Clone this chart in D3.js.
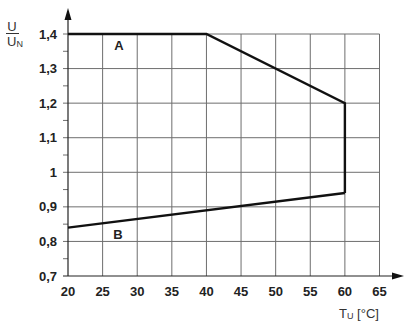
<!DOCTYPE html>
<html><head><meta charset="utf-8">
<script src="https://cdn.jsdelivr.net/npm/d3@7"></script>
<style>body{margin:0;background:#fff}svg{display:block}</style>
</head><body>
<script>
const xTicks = [20,25,30,35,40,45,50,55,60,65];
const yTicks = [0.7,0.8,0.9,1,1.1,1.2,1.3,1.4];
const yMinor = [0.75,0.85,0.95,1.05,1.15,1.25,1.35];
const curveA_T = [20,40,60,60];
const curveA_U = [1.4,1.4,1.2,0.94];
const curveB_T = [60,20];
const curveB_U = [0.94,0.84];

const W=408,H=327;
const svg=d3.select("body").append("svg").attr("width",W).attr("height",H);
const x=d3.scaleLinear().domain([20,65]).range([68,379.5]);
const y=d3.scaleLinear().domain([0.7,1.4]).range([276,34]);
const fmt=d=>String(d).replace(".",",");
const grid="#6e6e6e";

svg.append("g").selectAll("line").data(xTicks.slice(1)).join("line")
 .attr("x1",d=>x(d)).attr("x2",d=>x(d)).attr("y1",y(1.4)).attr("y2",y(0.7))
 .attr("stroke",grid).attr("stroke-width",1);
svg.append("g").selectAll("line").data(yTicks.slice(1)).join("line")
 .attr("x1",x(20)-5).attr("x2",x(65)).attr("y1",d=>y(d)).attr("y2",d=>y(d))
 .attr("stroke",grid).attr("stroke-width",1);
svg.append("g").selectAll("line").data(yMinor).join("line")
 .attr("x1",x(20)-5).attr("x2",x(20)).attr("y1",d=>y(d)).attr("y2",d=>y(d))
 .attr("stroke",grid).attr("stroke-width",1);

svg.append("line").attr("x1",x(20)).attr("x2",x(20)).attr("y1",y(0.7)).attr("y2",18).attr("stroke","#222").attr("stroke-width",1.2);
svg.append("line").attr("x1",x(20)-5).attr("x2",396).attr("y1",y(0.7)).attr("y2",y(0.7)).attr("stroke","#222").attr("stroke-width",1.2);
svg.append("path").attr("d",`M${x(20)},8 L${x(20)-3.5},20 L${x(20)+3.5},20 Z`).attr("fill","#111");
svg.append("path").attr("d",`M404,${y(0.7)} L392,${y(0.7)-3.5} L392,${y(0.7)+3.5} Z`).attr("fill","#111");

const lf="Liberation Sans, Arial, sans-serif";
svg.append("g").selectAll("text").data(yTicks).join("text")
 .attr("x",57).attr("y",d=>y(d)+4.5).attr("text-anchor","end")
 .attr("font-family",lf).attr("font-weight","bold").attr("font-size",13)
 .attr("fill","#222").text(fmt);
svg.append("g").selectAll("text").data(xTicks).join("text")
 .attr("x",d=>x(d)).attr("y",296).attr("text-anchor","middle")
 .attr("font-family",lf).attr("font-weight","bold").attr("font-size",13)
 .attr("fill","#222").text(d=>d);

const line=d3.line().x(d=>x(d[0])).y(d=>y(d[1]));
svg.append("path").datum(curveA_T.map((t,i)=>[t,curveA_U[i]])).attr("d",line)
 .attr("fill","none").attr("stroke","#111").attr("stroke-width",2.4).attr("stroke-linejoin","miter");
svg.append("path").datum(curveB_T.map((t,i)=>[t,curveB_U[i]])).attr("d",line)
 .attr("fill","none").attr("stroke","#111").attr("stroke-width",2.4);

svg.append("text").attr("x",119).attr("y",50).attr("text-anchor","middle").attr("font-family",lf).attr("font-weight","bold").attr("font-size",13).attr("fill","#222").text("A");
svg.append("text").attr("x",118).attr("y",239).attr("text-anchor","middle").attr("font-family",lf).attr("font-weight","bold").attr("font-size",13).attr("fill","#222").text("B");

svg.append("text").attr("x",12).attr("y",30.5).attr("text-anchor","middle").attr("font-family",lf).attr("font-size",13).attr("fill","#333").text("U");
svg.append("line").attr("x1",6).attr("x2",19).attr("y1",33.5).attr("y2",33.5).attr("stroke","#333").attr("stroke-width",1);
const t2=svg.append("text").attr("x",7).attr("y",45.5).attr("font-family",lf).attr("font-size",13).attr("fill","#333");
t2.append("tspan").text("U");
t2.append("tspan").attr("font-size",9).attr("dy",1).text("N");

const t3=svg.append("text").attr("x",339).attr("y",318).attr("font-family",lf).attr("font-size",13).attr("fill","#333");
t3.append("tspan").text("T");
t3.append("tspan").attr("font-size",9).attr("dy",1).text("U");
t3.append("tspan").attr("dy",-1).text(" [°C]");
</script>
</body></html>
